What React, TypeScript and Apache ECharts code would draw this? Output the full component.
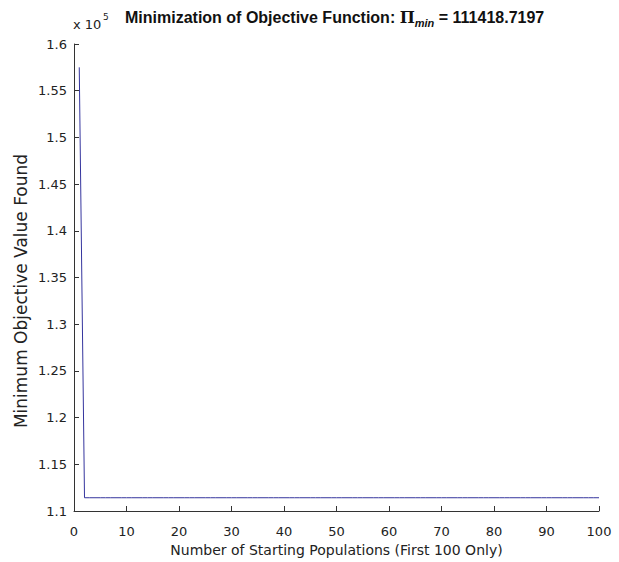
import React, { useEffect, useRef } from "react";
import * as echarts from "echarts";

// Number of starting populations (x) and minimum objective value found (y)
const populations: number[] = [
  1, 2, 3, 4, 5, 6, 7, 8, 9, 10, 11, 12, 13, 14, 15, 16, 17, 18, 19, 20,
  21, 22, 23, 24, 25, 26, 27, 28, 29, 30, 31, 32, 33, 34, 35, 36, 37, 38, 39, 40,
  41, 42, 43, 44, 45, 46, 47, 48, 49, 50, 51, 52, 53, 54, 55, 56, 57, 58, 59, 60,
  61, 62, 63, 64, 65, 66, 67, 68, 69, 70, 71, 72, 73, 74, 75, 76, 77, 78, 79, 80,
  81, 82, 83, 84, 85, 86, 87, 88, 89, 90, 91, 92, 93, 94, 95, 96, 97, 98, 99, 100,
];
const M = 111418.7197;
const minObjective: number[] = [
  157500, M, M, M, M, M, M, M, M, M, M, M, M, M, M, M, M, M, M, M,
  M, M, M, M, M, M, M, M, M, M, M, M, M, M, M, M, M, M, M, M,
  M, M, M, M, M, M, M, M, M, M, M, M, M, M, M, M, M, M, M, M,
  M, M, M, M, M, M, M, M, M, M, M, M, M, M, M, M, M, M, M, M,
  M, M, M, M, M, M, M, M, M, M, M, M, M, M, M, M, M, M, M, M,
];

const titleText = "Minimization of Objective Function: ";
const titleValue = " = 111418.7197";
const xName = "Number of Starting Populations (First 100 Only)";
const yName = "Minimum Objective Value Found";

export default function App() {
  const ref = useRef<HTMLDivElement>(null);
  useEffect(() => {
    if (!ref.current) return;
    const chart = echarts.init(ref.current, null, { renderer: "svg" });
    const labelFont = "'DejaVu Sans', 'Liberation Sans', sans-serif";
    const titleFont = "'Liberation Sans', Arial, sans-serif";
    const axisColor = "#333333";
    chart.setOption({
      animation: false,
      backgroundColor: "#ffffff",
      title: {
        left: 120,
        top: 1,
        text: `{a|${titleText}}{pi|Π}{sub|min}{a|${titleValue}}`,
        textStyle: {
          rich: {
            a: { fontFamily: titleFont, fontWeight: "bold", fontSize: 16, color: "#111" },
            pi: { fontFamily: "'DejaVu Serif', serif", fontSize: 16, color: "#111" },
            sub: {
              fontFamily: "'Liberation Sans', Arial, sans-serif",
              fontStyle: "italic",
              fontSize: 11,
              color: "#111",
              padding: [11, 0, 0, 0],
            },
          },
        },
      },
      graphic: [
        {
          type: "text",
          left: 73,
          top: 18,
          style: { text: "x 10", fontFamily: labelFont, fontSize: 13, fill: "#222" },
        },
        {
          type: "text",
          left: 103,
          top: 12,
          style: { text: "5", fontFamily: labelFont, fontSize: 9, fill: "#222" },
        },
        {
          type: "text",
          x: 21,
          y: 291,
          rotation: Math.PI / 2,
          style: {
            text: yName,
            fontFamily: labelFont,
            fontSize: 17,
            fill: "#222",
            align: "center",
            verticalAlign: "middle",
          },
        },
      ],
      grid: { left: 74, right: 20, top: 44, bottom: 51, containLabel: false },
      xAxis: {
        type: "value",
        min: 0,
        max: 100,
        interval: 10,
        name: xName,
        nameLocation: "middle",
        nameGap: 31,
        nameTextStyle: { fontFamily: labelFont, fontSize: 14, color: "#222" },
        axisLine: { lineStyle: { color: axisColor, width: 1 } },
        axisTick: { inside: true, length: 5, lineStyle: { color: axisColor } },
        axisLabel: { margin: 14, fontFamily: labelFont, fontSize: 13, color: "#222" },
        splitLine: { show: false },
      },
      yAxis: {
        type: "value",
        min: 110000,
        max: 160000,
        interval: 5000,
        axisLine: { show: true, lineStyle: { color: axisColor, width: 1 } },
        axisTick: { show: true, inside: true, length: 5, lineStyle: { color: axisColor } },
        axisLabel: {
          margin: 7,
          fontFamily: labelFont,
          fontSize: 13,
          color: "#222",
          formatter: (v: number) => String(parseFloat((v / 1e5).toFixed(2))),
        },
        splitLine: { show: false },
      },
      series: [
        {
          type: "line",
          data: populations.map((p, i) => [p, minObjective[i]]),
          showSymbol: false,
          symbol: "none",
          lineStyle: { color: "#35359e", width: 1 },
        },
      ],
    });
    return () => chart.dispose();
  }, []);
  return (
    <div
      ref={ref}
      style={{ position: "fixed", left: 0, top: 0, width: 619, height: 562 }}
    />
  );
}
